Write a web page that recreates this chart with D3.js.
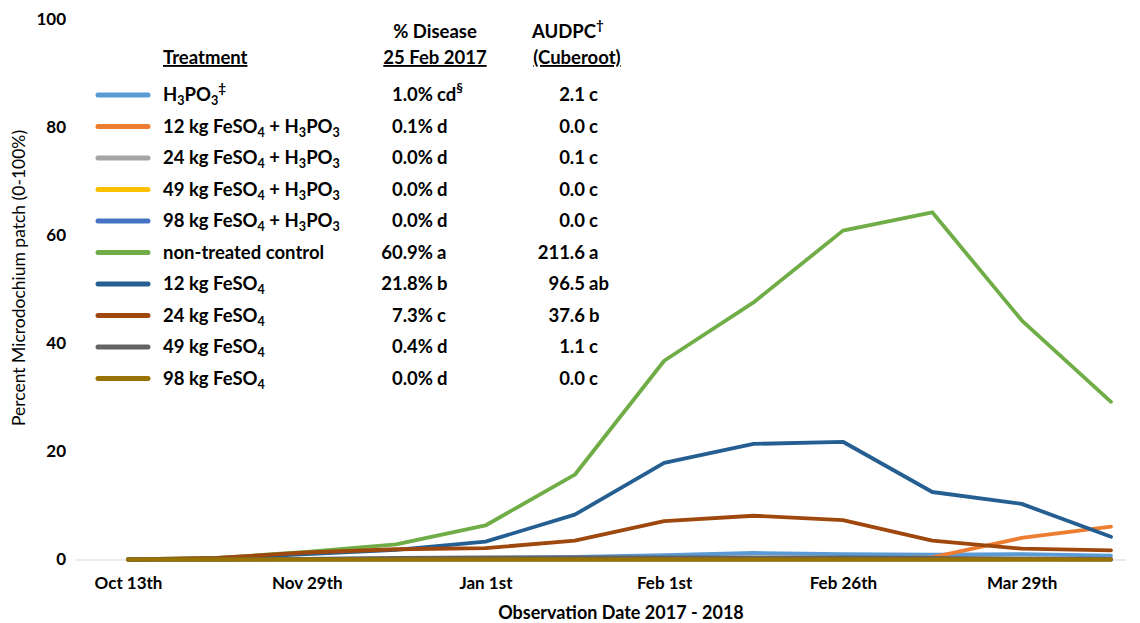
<!DOCTYPE html>
<html>
<head>
<meta charset="utf-8">
<script src="https://cdn.jsdelivr.net/npm/d3@7"></script>
<style>
  html, body { margin: 0; padding: 0; background: #fff; }
  svg { display: block; font-family: Lato, "Open Sans", sans-serif; }
</style>
</head>
<body>
<svg id="chart" width="1140" height="623"></svg>
<script>
// Observation dates (12 ratings); every other one is labelled on the axis
const observations = d3.range(12);
const tickLabels = ["Oct 13th", "", "Nov 29th", "", "Jan 1st", "", "Feb 1st", "", "Feb 26th", "", "Mar 29th", ""];
const yTicks = [0, 20, 40, 60, 80, 100];

// Treatments (labels use _n for subscript digits, ^x for superscript marks)
const treatments = [
  "H_3PO_3^‡",
  "12 kg FeSO_4 + H_3PO_3",
  "24 kg FeSO_4 + H_3PO_3",
  "49 kg FeSO_4 + H_3PO_3",
  "98 kg FeSO_4 + H_3PO_3",
  "non-treated control",
  "12 kg FeSO_4",
  "24 kg FeSO_4",
  "49 kg FeSO_4",
  "98 kg FeSO_4"
];
const colors = ["#5B9BD5", "#ED7D31", "#A5A5A5", "#FFC000", "#4472C4",
                "#70AD47", "#255E91", "#9E480E", "#636363", "#997300"];

// Percent disease at each observation
const h3po3      = [0, 0, 0.1, 0.2, 0.3, 0.5, 0.8, 1.2, 1.0, 0.9, 1.0, 0.7];
const fe12h3po3  = [0, 0, 0, 0, 0, 0, 0, 0, 0.1, 0.4, 4.0, 6.1];
const fe24h3po3  = [0, 0, 0, 0, 0, 0, 0.1, 0.1, 0, 0, 0.1, 0];
const fe49h3po3  = [0, 0, 0, 0, 0, 0, 0, 0, 0, 0, 0, 0];
const fe98h3po3  = [0, 0, 0, 0, 0, 0, 0, 0, 0, 0, 0, 0];
const control    = [0, 0.3, 1.4, 2.8, 6.3, 15.7, 36.8, 47.6, 60.9, 64.3, 44.3, 29.2];
const fe12       = [0, 0.2, 1.0, 1.8, 3.3, 8.3, 17.9, 21.4, 21.8, 12.5, 10.3, 4.2];
const fe24       = [0, 0.3, 1.3, 1.9, 2.1, 3.5, 7.1, 8.1, 7.3, 3.5, 2.0, 1.7];
const fe49       = [0, 0, 0.1, 0.3, 0.4, 0.4, 0.4, 0.4, 0.4, 0.3, 0.2, 0.1];
const fe98       = [0, 0, 0, 0, 0, 0, 0, 0, 0, 0, 0, 0];
const seriesValues = [h3po3, fe12h3po3, fe24h3po3, fe49h3po3, fe98h3po3,
                      control, fe12, fe24, fe49, fe98];

// Table columns: % disease on 25 Feb and cube-root AUDPC with mean separation letters
const diseasePct     = ["1.0%", "0.1%", "0.0%", "0.0%", "0.0%", "60.9%", "21.8%", "7.3%", "0.4%", "0.0%"];
const diseaseLetters = ["cd^§", "d", "d", "d", "d", "a", "b", "c", "d", "d"];
const audpc          = ["2.1", "0.0", "0.1", "0.0", "0.0", "211.6", "96.5", "37.6", "1.1", "0.0"];
const audpcLetters   = ["c", "c", "c", "c", "c", "a", "ab", "b", "c", "c"];

const svg = d3.select("#chart");

const x = d3.scalePoint().domain(observations).range([128, 1111]);
const y = d3.scaleLinear().domain([0, 100]).range([559.5, 19.5]);

// Horizontal baseline
svg.append("line")
  .attr("x1", 75).attr("x2", 1126)
  .attr("y1", y(0) + 0.5).attr("y2", y(0) + 0.5)
  .attr("stroke", "#D9D9D9").attr("stroke-width", 1);

// Y axis (labels only)
const yAxis = svg.append("g")
  .attr("transform", "translate(66,0)")
  .call(d3.axisLeft(y).tickValues(yTicks).tickSize(0).tickPadding(0));
yAxis.select(".domain").remove();
yAxis.selectAll("text")
  .attr("font-family", "Lato, sans-serif")
  .attr("font-size", 17).attr("font-weight", "bold").attr("fill", "#000");

// X axis (labels only)
const xAxis = svg.append("g")
  .attr("transform", `translate(0,${y(0)})`)
  .call(d3.axisBottom(x).tickFormat(i => tickLabels[i]).tickSize(0).tickPadding(17));
xAxis.select(".domain").remove();
xAxis.selectAll("text")
  .attr("font-family", "Lato, sans-serif")
  .attr("font-size", 17).attr("font-weight", "bold").attr("fill", "#000");

// Axis titles
svg.append("text")
  .attr("x", 621).attr("y", 619)
  .attr("text-anchor", "middle")
  .attr("font-size", 18).attr("font-weight", "bold")
  .text("Observation Date 2017 - 2018");

svg.append("text")
  .attr("transform", "translate(25,278) rotate(-90)")
  .attr("text-anchor", "middle")
  .attr("font-size", 17.5)
  .text("Percent Microdochium patch (0-100%)");

// Series lines
const line = d3.line()
  .x((d, i) => x(i))
  .y(d => y(d));

svg.append("g").selectAll("path")
  .data(seriesValues)
  .join("path")
  .attr("d", line)
  .attr("fill", "none")
  .attr("stroke", (d, i) => colors[i])
  .attr("stroke-width", 3.8)
  .attr("stroke-linejoin", "round")
  .attr("stroke-linecap", "round");

// Rich text helper: "_digits" -> subscript, "^mark" -> superscript
function richText(sel, str) {
  const parts = str.split(/(_[0-9]+|\^[^ ]+)/).filter(s => s.length);
  let shift = 0;
  parts.forEach(p => {
    let target = 0;
    let txt = p;
    let size = null;
    if (p[0] === "_") { target = 4; txt = p.slice(1); size = "0.68em"; }
    else if (p[0] === "^") { target = -8; txt = p.slice(1); size = "0.72em"; }
    const t = sel.append("tspan").attr("dy", target - shift).text(txt);
    if (size) t.attr("font-size", size);
    shift = target;
  });
}

// Legend table
const legend = svg.append("g")
  .attr("font-size", 18.5).attr("font-weight", "bold").attr("fill", "#000");

const rowY = i => 95 + i * 31.5;

legend.append("text").attr("x", 163).attr("y", 64).attr("text-decoration", "underline").text("Treatment");
legend.append("text").attr("x", 435).attr("y", 38).attr("text-anchor", "middle").text("% Disease");
legend.append("text").attr("x", 435).attr("y", 64).attr("text-anchor", "middle").attr("text-decoration", "underline").text("25 Feb 2017");
const aud = legend.append("text").attr("x", 532).attr("y", 38);
richText(aud, "AUDPC^†");
legend.append("text").attr("x", 577).attr("y", 64).attr("text-anchor", "middle").attr("text-decoration", "underline").text("(Cuberoot)");

const rows = legend.selectAll("g.row")
  .data(treatments)
  .join("g")
  .attr("class", "row")
  .attr("transform", (d, i) => `translate(0,${rowY(i)})`);

rows.append("line")
  .attr("x1", 98).attr("x2", 148)
  .attr("stroke", (d, i) => colors[i])
  .attr("stroke-width", 5)
  .attr("stroke-linecap", "round");

rows.append("text")
  .attr("x", 163).attr("y", 6)
  .each(function (d) { richText(d3.select(this), d); });

rows.append("text")
  .attr("x", 433).attr("y", 6).attr("text-anchor", "end")
  .text((d, i) => diseasePct[i]);

rows.append("text")
  .attr("x", 437).attr("y", 6)
  .each(function (d, i) { richText(d3.select(this), diseaseLetters[i]); });

rows.append("text")
  .attr("x", 585).attr("y", 6).attr("text-anchor", "end")
  .text((d, i) => audpc[i]);

rows.append("text")
  .attr("x", 589).attr("y", 6)
  .text((d, i) => audpcLetters[i]);
</script>
</body>
</html>
